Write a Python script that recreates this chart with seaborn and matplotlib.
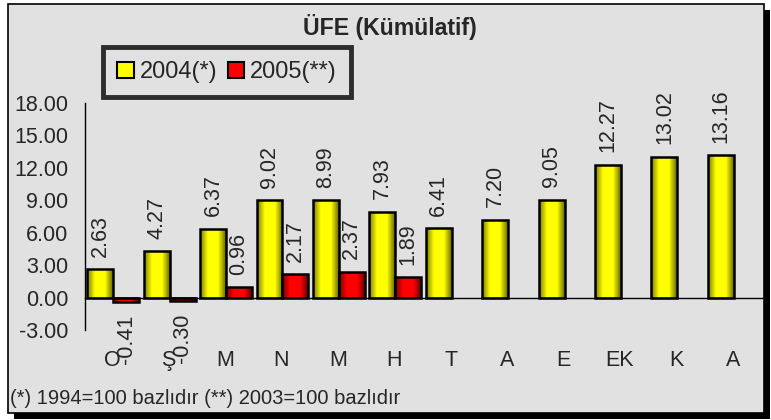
import matplotlib.pyplot as plt
import numpy as np
import pandas as pd
import seaborn as sns
from matplotlib.colors import LinearSegmentedColormap
from matplotlib.patches import Patch, Rectangle
from matplotlib.ticker import FormatStrFormatter

aylar = ["O", "Ş", "M", "N", "M", "H", "T", "A", "E", "EK", "K", "A"]
ufe_2004 = [2.63, 4.27, 6.37, 9.02, 8.99, 7.93, 6.41, 7.20, 9.05, 12.27, 13.02, 13.16]
ufe_2005 = [-0.41, -0.30, 0.96, 2.17, 2.37, 1.89]
seriler = ["2004(*)", "2005(**)"]
y_ticks = [-3, 0, 3, 6, 9, 12, 15, 18]

rows = []
for i, v in enumerate(ufe_2004):
    rows.append({"ay": i, "seri": seriler[0], "deger": v})
for i, v in enumerate(ufe_2005):
    rows.append({"ay": i, "seri": seriler[1], "deger": v})
df = pd.DataFrame(rows)

sns.set_style("white")
plt.rcParams["font.family"] = ["Liberation Sans", "DejaVu Sans"]

BG = "#e1e1e1"
W, H = 771, 420
FS = 15.5
fig = plt.figure(figsize=(W / 100, H / 100), dpi=100, facecolor="white")

# frame with drop shadow
fig.patches.append(Rectangle((14 / W, 1 / H), 756 / W, 409 / H, transform=fig.transFigure,
                             facecolor="black", edgecolor="none", zorder=-3))
fig.patches.append(Rectangle((8 / W, 7 / H), 756 / W, 409 / H, transform=fig.transFigure,
                             facecolor=BG, edgecolor="black", linewidth=1.2, zorder=-2))

ax = fig.add_axes([85 / W, 90 / H, 677 / W, 227 / H])
ax.patch.set_visible(False)

palette = {seriler[0]: "#ffff00", seriler[1]: "#ff0000"}
sns.barplot(data=df, x="ay", y="deger", hue="seri", hue_order=seriler,
            order=list(range(len(aylar))), palette=palette, width=0.92,
            edgecolor="black", linewidth=1.8, saturation=1, legend=False, ax=ax)

# gradient fill inside each bar
cmaps = {
    seriler[0]: LinearSegmentedColormap.from_list(
        "y", [(0, "#7a7a00"), (0.3, "#ffff00"), (0.7, "#ffff00"), (1, "#6a6a00")]),
    seriler[1]: LinearSegmentedColormap.from_list(
        "r", [(0, "#7a0000"), (0.3, "#ff0000"), (0.7, "#ff0000"), (1, "#6a0000")]),
}
grad = np.linspace(0, 1, 64).reshape(1, -1)
for cont, seri in zip(ax.containers, seriler):
    for p in cont.patches:
        x0, y0, w, h = p.get_x(), p.get_y(), p.get_width(), p.get_height()
        if not np.isfinite(h):
            continue
        ax.imshow(grad, extent=[x0, x0 + w, min(y0, y0 + h), max(y0, y0 + h)],
                  aspect="auto", cmap=cmaps[seri], zorder=p.get_zorder() - 0.1,
                  interpolation="bilinear")
        p.set_facecolor("none")

for cont, vals in zip(ax.containers, [ufe_2004, ufe_2005]):
    ax.bar_label(cont, labels=[f"{v:.2f}" for v in vals], rotation=90,
                 padding=9, fontsize=FS)

ax.set_xlim(-0.5, len(aylar) - 0.5)
ax.set_ylim(-3, 18)
ax.set_yticks(y_ticks)
ax.yaxis.set_major_formatter(FormatStrFormatter("%.2f"))
ax.tick_params(axis="y", direction="out", length=5, width=1, pad=7, labelsize=FS)

ax.set_xticks(range(len(aylar)))
ax.set_xticklabels([])
ax.set_xticks(np.arange(-0.5, len(aylar), 1), minor=True)
ax.tick_params(axis="x", which="major", length=0)
ax.tick_params(axis="x", which="minor", direction="out", length=5, width=1)
for i, a in enumerate(aylar):
    ax.text(i - 0.02, -5.8, a, ha="center", va="center", fontsize=FS, clip_on=False)

ax.set_xlabel("")
ax.set_ylabel("")
ax.spines["top"].set_visible(False)
ax.spines["right"].set_visible(False)
ax.spines["bottom"].set_position(("data", 0))
ax.spines["left"].set_bounds(-3, 18)
for s in ("left", "bottom"):
    ax.spines[s].set_linewidth(1)
    ax.spines[s].set_color("black")

fig.text(390 / W, 1 - 27 / H, "ÜFE (Kümülatif)", ha="center", va="center",
         fontsize=16.7, fontweight="bold")

handles = [Patch(facecolor=palette[s], edgecolor="black", linewidth=1.5) for s in seriler]
leg = fig.legend(handles, seriler, loc="upper left", bbox_to_anchor=(103 / W, 1 - 47 / H),
                 ncol=2, frameon=True, fancybox=False, fontsize=17, borderaxespad=0,
                 handlelength=0.7, handleheight=0.7, handletextpad=0.25,
                 columnspacing=0.45, borderpad=0.6)
leg.get_frame().set_edgecolor("black")
leg.get_frame().set_linewidth(3.5)
leg.get_frame().set_facecolor(BG)

fig.text(10 / W, 1 - 398 / H, "(*) 1994=100 bazlıdır (**) 2003=100 bazlıdır",
         ha="left", va="center", fontsize=14.5)

fig.savefig("out.png", dpi=100, facecolor=fig.get_facecolor())
